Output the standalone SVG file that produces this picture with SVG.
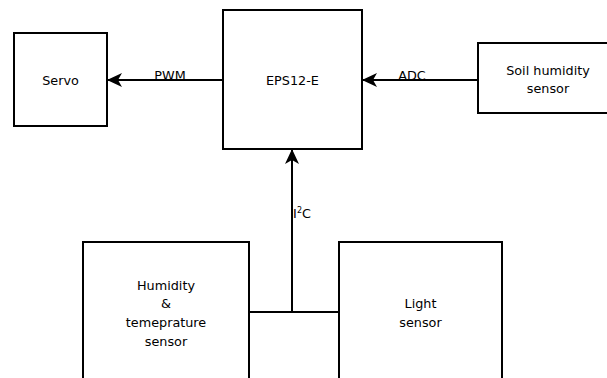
<svg xmlns="http://www.w3.org/2000/svg" width="607" height="378" viewBox="0 0 607 378">
<defs>
<marker id="arr" viewBox="0 0 15 14" refX="14" refY="7" markerWidth="15" markerHeight="14" markerUnits="userSpaceOnUse" orient="auto">
<path d="M0,0 L15,7 L0,14 L4,7 Z" fill="#000"/>
</marker>
<style>
.box{fill:#fff;stroke:#000;stroke-width:2}
.ln{fill:none;stroke:#000;stroke-width:2}
text{font-family:"DejaVu Sans",sans-serif;font-size:12.8px;fill:#000;text-anchor:middle}
</style>
</defs>
<rect width="607" height="378" fill="#fff"/>
<g id="connectors">
<line class="ln" x1="223" y1="80" x2="108" y2="80" marker-end="url(#arr)"/>
<line class="ln" x1="478" y1="80" x2="363" y2="80" marker-end="url(#arr)"/>
<polyline class="ln" points="249,312 339,312"/>
<line class="ln" x1="292" y1="312" x2="292" y2="150" marker-end="url(#arr)"/>
<text x="170" y="80">PWM</text>
<text x="412" y="80">ADC</text>
<text x="302" y="218">I<tspan font-size="8" dy="-5">2</tspan><tspan dy="5">C</tspan></text>
</g>
<g id="servo">
<rect class="box" x="14" y="33" width="93" height="93"/>
<text x="60.5" y="85">Servo</text>
</g>
<g id="eps">
<rect class="box" x="223" y="10" width="139" height="139"/>
<text x="292.5" y="85">EPS12-E</text>
</g>
<g id="soil">
<rect class="box" x="478" y="43" width="140" height="70"/>
<text x="548" y="75">Soil humidity</text>
<text x="548" y="93">sensor</text>
</g>
<g id="humidity">
<rect class="box" x="83" y="242" width="166" height="150"/>
<text x="166" y="290">Humidity</text>
<text x="166" y="308">&amp;</text>
<text x="166" y="327">temeprature</text>
<text x="166" y="346">sensor</text>
</g>
<g id="light">
<rect class="box" x="339" y="242" width="163" height="150"/>
<text x="420.5" y="308">Light</text>
<text x="420.5" y="327">sensor</text>
</g>
</svg>
